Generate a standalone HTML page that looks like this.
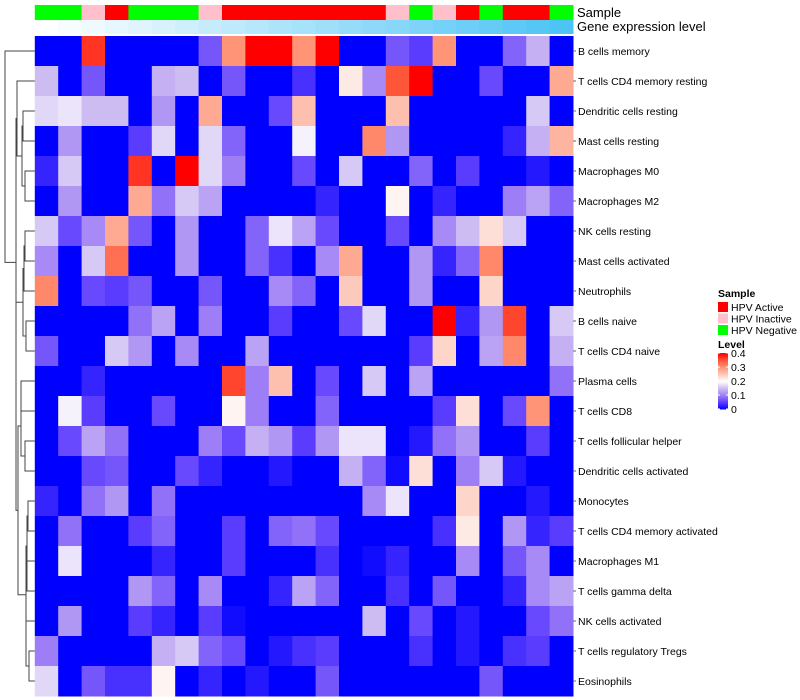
<!DOCTYPE html>
<html><head><meta charset="utf-8"><style>
html,body{margin:0;padding:0;background:#fff;}
svg{display:block;font-family:"Liberation Sans",sans-serif;}
</style></head><body>
<svg id="chart" xmlns="http://www.w3.org/2000/svg" width="800" height="700"></svg>
<script>
var rowLabels=["B cells memory","T cells CD4 memory resting","Dendritic cells resting","Mast cells resting","Macrophages M0","Macrophages M2","NK cells resting","Mast cells activated","Neutrophils","B cells naive","T cells CD4 naive","Plasma cells","T cells CD8","T cells follicular helper","Dendritic cells activated","Monocytes","T cells CD4 memory activated","Macrophages M1","T cells gamma delta","NK cells activated","T cells regulatory  Tregs","Eosinophils"];
var sampleGroups=["N","N","I","A","N","N","N","I","A","A","A","A","A","A","A","I","N","I","A","N","A","A","N"];
var geneLevels=[0,1,2,3,4,5,6,7,8,9,10,11,12,13,14,15,16,17,18,19,20,21,22];
var cellValues=[
[0,0,0.37,0,0,0,0,0.07,0.3,0.4,0.4,0.3,0.4,0,0,0.07,0.05,0.3,0,0,0.08,0.14,0],
[0.15,0,0.07,0,0,0.14,0.15,0,0.07,0,0,0.04,0,0.22,0.11,0.35,0.4,0,0,0.06,0,0,0.28],
[0.17,0.18,0.15,0.15,0,0.12,0,0.28,0,0,0.06,0.26,0,0,0,0.26,0,0,0,0,0,0.16,0],
[0,0.12,0,0,0.05,0.17,0,0.17,0.08,0,0,0.19,0,0,0.31,0.12,0,0,0,0,0.03,0.14,0.27],
[0.03,0.16,0,0,0.37,0,0.4,0.17,0.1,0,0,0.06,0,0.16,0,0,0.08,0,0.05,0,0,0.02,0],
[0,0.12,0,0,0.28,0.09,0.16,0.13,0,0,0,0,0.03,0,0,0.21,0,0.03,0,0,0.1,0.13,0.08],
[0.16,0.06,0.11,0.28,0.07,0,0.12,0,0,0.08,0.18,0.13,0.06,0,0,0.06,0,0.11,0.15,0.23,0.16,0,0],
[0.11,0,0.16,0.33,0,0,0.12,0,0,0.08,0.04,0,0.11,0.28,0,0,0.12,0.03,0.08,0.31,0,0,0],
[0.31,0,0.06,0.05,0.07,0,0,0.07,0,0,0.11,0.08,0,0.25,0,0,0.12,0,0,0.24,0,0,0],
[0,0,0,0,0.09,0.13,0,0.1,0,0,0.05,0,0,0.06,0.17,0,0,0.4,0.03,0.12,0.36,0,0.16],
[0.07,0,0,0.16,0.12,0,0.11,0,0,0.13,0,0,0,0,0,0,0.05,0.24,0,0.13,0.31,0,0.14],
[0,0,0.03,0,0,0,0,0,0.36,0.1,0.26,0,0.06,0,0.16,0,0.13,0,0,0,0,0,0.09],
[0,0.19,0.05,0,0,0.06,0,0,0.21,0.1,0,0,0.08,0,0,0,0,0.05,0.23,0,0.06,0.3,0],
[0,0.06,0.13,0.09,0,0,0,0.1,0.06,0.14,0.12,0.05,0.12,0.18,0.18,0,0.02,0.09,0.12,0,0,0.05,0],
[0,0,0.06,0.07,0,0,0.06,0.03,0,0,0.02,0,0,0.14,0.08,0.01,0.23,0,0.1,0.16,0.02,0,0],
[0.03,0,0.09,0.12,0,0.09,0,0,0,0,0,0,0,0,0.11,0.18,0,0,0.24,0,0,0.02,0],
[0,0.09,0,0,0.05,0.08,0,0,0.05,0,0.08,0.09,0.06,0,0,0,0,0.04,0.22,0,0.12,0.03,0.05],
[0,0.18,0,0,0,0.03,0,0,0.05,0,0,0,0.04,0,0.01,0.03,0,0,0.11,0,0.07,0.11,0],
[0,0,0,0,0.12,0.08,0,0.11,0,0,0.03,0.13,0.08,0,0,0.04,0,0.07,0,0,0.03,0.11,0.13],
[0,0.12,0,0,0.05,0.03,0,0.05,0.01,0,0,0,0,0,0.15,0,0.06,0,0.02,0,0,0.06,0.09],
[0.1,0,0,0,0,0.14,0.16,0.08,0.06,0,0.02,0.04,0.05,0,0,0,0.04,0,0.02,0,0.04,0.05,0],
[0.17,0,0.07,0.04,0.04,0.21,0,0.03,0,0.02,0,0,0.07,0,0,0,0,0,0,0.07,0,0,0]];
var legendTicks=[0,0.1,0.2,0.3,0.4];
var groupNames={A:"HPV Active",I:"HPV Inactive",N:"HPV Negative"};
var groupColors={A:"#ff0000",I:"#ffc0cb",N:"#00ff00"};

var hmSvg=document.getElementById('chart');
var SVGNS="http://www.w3.org/2000/svg";
function mk(tag,attrs,parent){
  var node=document.createElementNS(SVGNS,tag);
  for(var k in attrs){node.setAttribute(k,String(attrs[k]));}
  (parent||hmSvg).appendChild(node);
  return node;
}
var HX0=34.8,HX1=573,HY0=36,HY1=696;
var nCols=cellValues[0].length,nRows=cellValues.length;
var cellW=(HX1-HX0)/nCols,cellH=(HY1-HY0)/nRows;
function colX(c){return HX0+c*cellW;}
function rowY(r){return HY0+r*cellH;}
var colorStops=[[0,[0,0,255]],[0.05,[90,60,255]],[0.1,[158,126,246]],[0.15,[205,188,242]],[0.2,[255,255,255]],[0.25,[252,202,188]],[0.3,[255,148,118]],[0.35,[255,86,58]],[0.4,[255,0,0]]];
function valColor(v){
  v=Math.max(0,Math.min(0.4,v));
  for(var i=1;i<colorStops.length;i++){
    if(v<=colorStops[i][0]){
      var lo=colorStops[i-1],hi=colorStops[i],f=(v-lo[0])/(hi[0]-lo[0]);
      var rgb=[];for(var j=0;j<3;j++){rgb.push(Math.round(lo[1][j]+(hi[1][j]-lo[1][j])*f));}
      return 'rgb('+rgb.join(',')+')';
    }
  }
  return 'rgb(255,0,0)';
}
function geneColor(g){
  var f=g/(nCols-1),lo=[255,255,255],hi=[77,196,245],rgb=[];
  for(var j=0;j<3;j++){rgb.push(Math.round(lo[j]+(hi[j]-lo[j])*f));}
  return 'rgb('+rgb.join(',')+')';
}

try{
for(var c=0;c<sampleGroups.length;c++){
  var sa=mk('rect',{x:colX(c),y:5,width:cellW+0.5,height:15,fill:groupColors[sampleGroups[c]]});
  
  
}
for(var c2=0;c2<geneLevels.length;c2++){
  var ga=mk('rect',{x:colX(c2),y:20,width:cellW+0.5,height:14,fill:geneColor(geneLevels[c2])});
  
  
}
var lab1=mk('text',{x:577,y:17,'font-size':13,fill:'#000'});lab1.textContent="Sample";


var lab2=mk('text',{x:577,y:31,'font-size':13,fill:'#000'});lab2.textContent="Gene expression level";


}catch(e){}

try{
for(var r=0;r<nRows;r++){
  for(var cc=0;cc<nCols;cc++){
    var cell=mk('rect',{x:colX(cc),y:rowY(r),width:cellW+0.5,height:cellH+0.5,fill:valColor(cellValues[r][cc])});
    
    
  }
}
for(var r2=0;r2<rowLabels.length;r2++){
  var cy=rowY(r2)+cellH/2;
  mk('line',{x1:HX1,x2:HX1+3,y1:cy,y2:cy,stroke:'#666','stroke-width':1});
  var rl=mk('text',{x:578,y:cy+4,'font-size':10.5,fill:'#000'});rl.textContent=rowLabels[r2];
  
  
}
}catch(e){}

try{
var dendroTree=[5,0,[16,[17,1,[22,[23,2,3],[25,4,5]]],[16,[23,[24,[25,6,7],8],[26,9,10]],[18,[21,[21,11,12],[25,13,14]],[26,[27,[28,15,16],[27,17,18]],[26,19,[29,20,21]]]]]]];
var dendroG=mk('g',{stroke:'#444','stroke-width':1,fill:'none'});


function drawNode(n){
  if(typeof n==='number'){return {x:HX0,y:rowY(n)+cellH/2};}
  var a=drawNode(n[1]),b=drawNode(n[2]),h=n[0];
  mk('path',{d:'M'+a.x+','+a.y+'H'+h+'V'+b.y+'H'+b.x},dendroG);
  return {x:h,y:(a.y+b.y)/2};
}
drawNode(dendroTree);
}catch(e){}

try{
var st=mk('text',{x:718,y:297,'font-size':10.5,'font-weight':'bold'});st.textContent="Sample";


var gkeys=["A","I","N"];
for(var i=0;i<gkeys.length;i++){
  var gy=302+i*11.5;
  var sw=mk('rect',{x:718,y:gy,width:10,height:10,fill:groupColors[gkeys[i]]});
  
  
  var gt=mk('text',{x:731,y:gy+9,'font-size':10.5});gt.textContent=groupNames[gkeys[i]];
  
  
}
var lt=mk('text',{x:718,y:348,'font-size':10.5,'font-weight':'bold'});lt.textContent="Level";


var LB0=409,LB1=353;
function legY(v){return LB0+(LB1-LB0)*v/0.4;}
var nSeg=56;
for(var s=0;s<nSeg;s++){
  var v0=0.4*s/nSeg;
  mk('rect',{x:718,y:legY(v0+0.4/nSeg),width:10,height:(LB0-LB1)/nSeg+0.5,fill:valColor(v0+0.2/nSeg)});
}
for(var k=0;k<legendTicks.length;k++){
  var tv=legendTicks[k],ty=legY(tv);
  mk('line',{x1:718,x2:720,y1:ty,y2:ty,stroke:'#fff'});
  mk('line',{x1:726,x2:728,y1:ty,y2:ty,stroke:'#fff'});
  var tl=mk('text',{x:731,y:ty+4,'font-size':10.5});tl.textContent=String(tv);
  
  
}
}catch(e){}
</script>
</body></html>
